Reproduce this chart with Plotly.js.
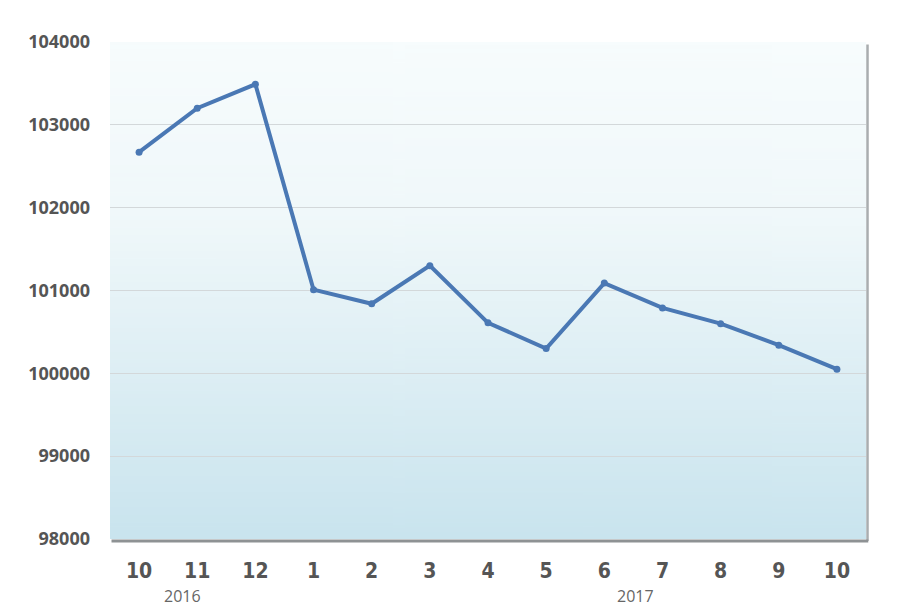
<!DOCTYPE html>
<html>
<head>
<meta charset="utf-8">
<script src="https://cdn.plot.ly/plotly-3.0.1.min.js"></script>
<style>
html,body{margin:0;padding:0;background:#fff;}
#chart{width:900px;height:611px;}
</style>
</head>
<body>
<div id="chart"></div>
<script>
// Data
var monthLabels = ["10","11","12","1","2","3","4","5","6","7","8","9","10"];
var values = [102670, 103200, 103490, 101010, 100840, 101300, 100610, 100300, 101090, 100790, 100600, 100340, 100050];
var yearLabels = ["2016", "2017"];
var yearPositions = [0.74, 8.53];
var yTicks = [98000, 99000, 100000, 101000, 102000, 103000, 104000];

var xIdx = monthLabels.map(function(_, i){ return i; });

// gradient background image
var cv = document.createElement('canvas');
cv.width = 4; cv.height = 256;
var ctx = cv.getContext('2d');
var g = ctx.createLinearGradient(0, 0, 0, 256);
g.addColorStop(0, '#f7fcfd');
g.addColorStop(0.35, '#f0f8fa');
g.addColorStop(1, '#c9e4ee');
ctx.fillStyle = g;
ctx.fillRect(0, 0, 4, 256);
var bgUrl = cv.toDataURL('image/png');

var trace = {
  x: xIdx,
  y: values,
  type: 'scatter',
  mode: 'lines+markers',
  line: {color: '#4a78b4', width: 4},
  marker: {color: '#4a78b4', size: 7},
  hoverinfo: 'skip'
};

var layout = {
  width: 900, height: 611,
  margin: {l: 110, r: 34, t: 42, b: 72},
  paper_bgcolor: '#ffffff',
  plot_bgcolor: 'rgba(0,0,0,0)',
  showlegend: false,
  xaxis: {
    range: [-0.5, 12.5],
    tickvals: xIdx,
    ticktext: monthLabels,
    showgrid: false,
    zeroline: false,
    showline: false,
    ticks: '',
    ticklen: 0,
    ticklabelstandoff: 17,
    tickfont: {family: 'DejaVu Sans Condensed, Liberation Sans Narrow, sans-serif', size: 21, color: '#555555', weight: 'bold'},
    fixedrange: true
  },
  yaxis: {
    range: [98000, 104000],
    tickvals: yTicks,
    ticktext: yTicks.map(String),
    showgrid: true,
    gridcolor: '#d3d8da',
    gridwidth: 1,
    zeroline: false,
    showline: false,
    ticks: '',
    ticklabelstandoff: 19,
    tickfont: {family: 'Open Sans, sans-serif', size: 18, color: '#555555', weight: 'bold'},
    fixedrange: true
  },
  images: [{
    source: bgUrl,
    xref: 'paper', yref: 'paper',
    x: 0, y: 1, sizex: 1, sizey: 1,
    xanchor: 'left', yanchor: 'top',
    sizing: 'stretch',
    layer: 'below'
  }],
  shapes: [
    {type: 'line', xref: 'paper', yref: 'paper', x0: 1.002, x1: 1.002, y0: -0.004, y1: 0.995, line: {color: '#a9adaf', width: 2.5}},
    {type: 'line', xref: 'paper', yref: 'paper', x0: 0.002, x1: 1.003, y0: -0.004, y1: -0.004, line: {color: '#8e9294', width: 3}}
  ],
  annotations: yearLabels.map(function(t, i){
    return {
      text: t, x: yearPositions[i], xref: 'x', y: 0, yref: 'paper',
      yanchor: 'middle', yshift: -57, showarrow: false,
      font: {family: 'Open Sans, sans-serif', size: 16, color: '#666666'}
    };
  })
};

Plotly.newPlot('chart', [trace], layout, {displayModeBar: false, staticPlot: true});
</script>
</body>
</html>
